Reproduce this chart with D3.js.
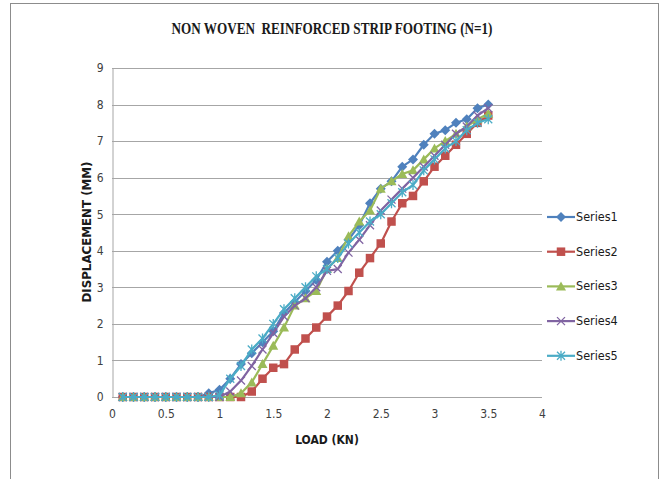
<!DOCTYPE html>
<html><head><meta charset="utf-8">
<script src="https://cdn.jsdelivr.net/npm/d3@7"></script>
<style>body{margin:0;background:#fff}svg{display:block}</style>
</head><body>
<svg id="c" width="664" height="479"></svg>
<script>
const loads = [0.1,0.2,0.3,0.4,0.5,0.6,0.7,0.8,0.9,1.0,1.1,1.2,1.3,1.4,1.5,1.6,1.7,1.8,1.9,2.0,2.1,2.2,2.3,2.4,2.5,2.6,2.7,2.8,2.9,3.0,3.1,3.2,3.3,3.4,3.5];
const series1 = [0,0,0,0,0,0,0,0,0.1,0.2,0.5,0.9,1.2,1.5,1.8,2.3,2.6,2.9,3.2,3.7,4.0,4.3,4.7,5.3,5.7,5.9,6.3,6.5,6.9,7.2,7.3,7.5,7.6,7.9,8.0];
const series2 = [0,0,0,0,0,0,0,0,0,0,0,0,0.15,0.5,0.8,0.9,1.3,1.6,1.9,2.2,2.5,2.9,3.4,3.8,4.2,4.8,5.3,5.5,5.9,6.3,6.6,6.9,7.2,7.5,7.7];
const series3 = [0,0,0,0,0,0,0,0,0,0,0,0.1,0.4,0.9,1.4,1.9,2.5,2.7,2.9,3.5,3.8,4.4,4.8,5.1,5.7,5.9,6.1,6.2,6.5,6.8,7.0,7.2,7.4,7.6,7.75];
const series4 = [0,0,0,0,0,0,0,0,0,0,0.15,0.45,0.85,1.3,1.75,2.2,2.5,2.7,3.0,3.45,3.5,3.95,4.3,4.7,5.1,5.4,5.7,6.0,6.3,6.6,6.9,7.2,7.4,7.7,7.9];
const series5 = [0,0,0,0,0,0,0,0,0,0.05,0.5,0.85,1.3,1.6,2.0,2.4,2.7,3.0,3.3,3.5,3.8,4.2,4.5,4.8,5.0,5.3,5.6,5.8,6.2,6.5,6.8,7.0,7.3,7.5,7.6];
const seriesNames = ["Series1","Series2","Series3","Series4","Series5"];
const seriesColors = ["#4F81BD","#C0504D","#9BBB59","#8064A2","#4BACC6"];
const markerTypes = ["diamond","square","triangle","x","star"];
const xTicks = [0,0.5,1,1.5,2,2.5,3,3.5,4];
const yTicks = [0,1,2,3,4,5,6,7,8,9];
const titleText = "NON WOVEN  REINFORCED STRIP FOOTING (N=1)";
const xLabel = "LOAD (KN)";
const yLabel = "DISPLACEMENT (MM)";

const allSeries = [series1,series2,series3,series4,series5];
const svg = d3.select("#c");
const font = "'Liberation Sans Narrow','DejaVu Sans Condensed','Liberation Sans',sans-serif";

svg.append("rect").attr("x",10.5).attr("y",3.5).attr("width",648).attr("height",490)
  .attr("fill","none").attr("stroke","#8c8c8c").attr("stroke-width",1);

const x = d3.scaleLinear().domain([0,4]).range([112,542]);
const y = d3.scaleLinear().domain([0,9]).range([397,68]);

svg.append("g").selectAll("line").data(yTicks.filter(d=>d>0)).join("line")
  .attr("x1",x(0)).attr("x2",x(4)).attr("y1",d=>Math.round(y(d))+0.5).attr("y2",d=>Math.round(y(d))+0.5)
  .attr("stroke","#a6a6a6").attr("stroke-width",1);

const gx = svg.append("g").attr("transform",`translate(0,${Math.round(y(0))+0.5})`)
  .call(d3.axisBottom(x).tickValues(xTicks).tickSize(0).tickPadding(12).tickFormat(d3.format("")));
const gy = svg.append("g").attr("transform",`translate(${Math.round(x(0))+0.5},0)`)
  .call(d3.axisLeft(y).tickValues(yTicks).tickSize(0).tickPadding(9));
[gx,gy].forEach(g=>{
  g.select(".domain").attr("stroke","#a6a6a6");
  g.selectAll("text").attr("font-family",font).attr("font-size",12).attr("fill","#404040");
});
gx.select(".domain").attr("d",`M${x(0)},0H${x(4)}`);

svg.append("text").attr("x",332).attr("y",34).attr("text-anchor","middle")
  .attr("font-family","'Liberation Serif','DejaVu Serif',serif").attr("font-weight","bold")
  .attr("font-size",16).attr("textLength",321).attr("lengthAdjust","spacingAndGlyphs")
  .attr("fill","#1a1a1a").attr("xml:space","preserve").text(titleText);

svg.append("text").attr("x",327).attr("y",444).attr("text-anchor","middle")
  .attr("font-family",font).attr("font-weight","bold").attr("font-size",12).attr("fill","#1a1a1a").text(xLabel);
svg.append("text").attr("transform","translate(91,232) rotate(-90)").attr("text-anchor","middle")
  .attr("font-family",font).attr("font-weight","bold").attr("font-size",12)
  .attr("textLength",141).attr("lengthAdjust","spacingAndGlyphs").attr("fill","#1a1a1a").text(yLabel);

function marker(g, type, color, cx, cy, s) {
  if (type==="diamond") {
    g.append("path").attr("d",`M${cx},${cy-s}L${cx+s},${cy}L${cx},${cy+s}L${cx-s},${cy}Z`).attr("fill",color);
  } else if (type==="square") {
    g.append("rect").attr("x",cx-s*0.85).attr("y",cy-s*0.85).attr("width",s*1.7).attr("height",s*1.7).attr("fill",color);
  } else if (type==="triangle") {
    g.append("path").attr("d",`M${cx},${cy-s}L${cx+s},${cy+s*0.8}L${cx-s},${cy+s*0.8}Z`).attr("fill",color);
  } else if (type==="x") {
    g.append("path").attr("d",`M${cx-s*0.8},${cy-s*0.8}L${cx+s*0.8},${cy+s*0.8}M${cx+s*0.8},${cy-s*0.8}L${cx-s*0.8},${cy+s*0.8}`)
      .attr("stroke",color).attr("stroke-width",1.3).attr("fill","none");
  } else {
    g.append("path").attr("d",`M${cx-s*0.8},${cy-s*0.8}L${cx+s*0.8},${cy+s*0.8}M${cx+s*0.8},${cy-s*0.8}L${cx-s*0.8},${cy+s*0.8}M${cx},${cy-s}L${cx},${cy+s}`)
      .attr("stroke",color).attr("stroke-width",1.3).attr("fill","none");
  }
}

const line = d3.line().x((d,i)=>x(loads[i])).y(d=>y(d));
allSeries.forEach((vals,k)=>{
  const g = svg.append("g");
  g.append("path").datum(vals).attr("d",line).attr("fill","none")
    .attr("stroke",seriesColors[k]).attr("stroke-width",2.2).attr("stroke-linejoin","round");
  vals.forEach((v,i)=>marker(g, markerTypes[k], seriesColors[k], x(loads[i]), y(v), 5));
});

seriesNames.forEach((n,k)=>{
  const ly = 217 + k*34.7;
  const g = svg.append("g");
  g.append("line").attr("x1",547).attr("x2",575).attr("y1",ly).attr("y2",ly)
    .attr("stroke",seriesColors[k]).attr("stroke-width",2.2);
  marker(g, markerTypes[k], seriesColors[k], 561, ly, 5);
  g.append("text").attr("x",576).attr("y",ly+4).attr("font-family",font).attr("font-size",12.5)
    .attr("fill","#1a1a1a").text(n);
});
</script>
</body></html>
